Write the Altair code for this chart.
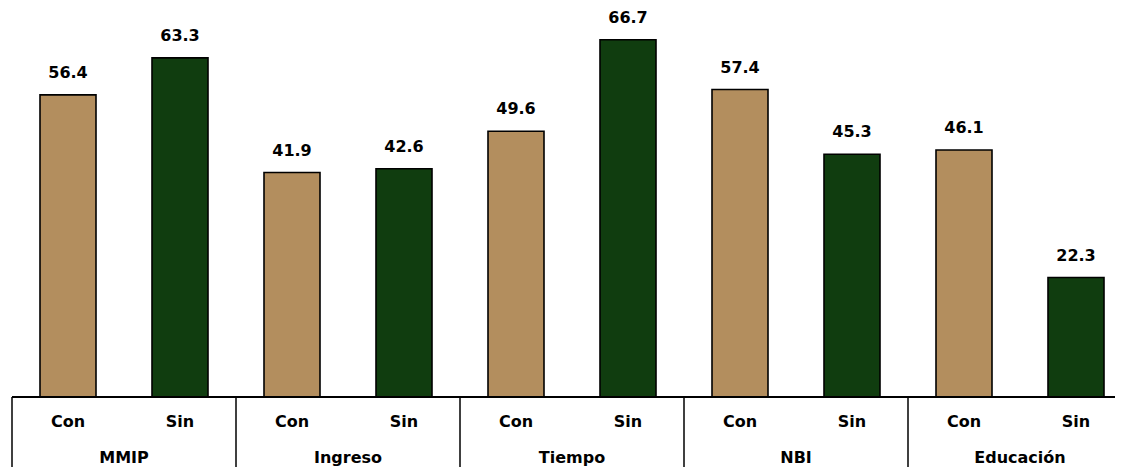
import altair as alt
import pandas as pd

groups = ["MMIP", "Ingreso", "Tiempo", "NBI", "Educación"]
subs = ["Con", "Sin"]
con_values = [56.4, 41.9, 49.6, 57.4, 46.1]
sin_values = [63.3, 42.6, 66.7, 45.3, 22.3]

rows = []
for gi, g in enumerate(groups):
    for s, vals in zip(subs, [con_values, sin_values]):
        rows.append({"key": f"{g}|{s}", "group": g, "sub": s, "value": vals[gi], "gi": gi})
df = pd.DataFrame(rows)
keys = list(df["key"])

grp_df = pd.DataFrame({"group": groups, "pos": [i + 0.5 for i in range(len(groups))]})
sep_df = pd.DataFrame({"pos": list(range(len(groups) + 1))})

FONT = "DejaVu Sans"
FS = 16
W, H = 1103, 375
FULL = 1120

xband = alt.X("key:N", sort=keys, axis=None,
              scale=alt.Scale(domain=keys, range=[0, FULL], paddingInner=0.5, paddingOuter=0.25))
yscale = alt.Scale(domain=[0, 70])

bars = alt.Chart(df).mark_bar(stroke="black", strokeWidth=1.6).encode(
    x=xband,
    y=alt.Y("value:Q", scale=yscale, axis=None),
    color=alt.Color("sub:N", scale=alt.Scale(domain=subs, range=["#B38E5E", "#103D0F"]), legend=None),
)

labels = alt.Chart(df).mark_text(font=FONT, fontWeight="bold", fontSize=FS, dy=-22,
                                 baseline="middle", color="black").encode(
    x=xband,
    y=alt.Y("value:Q", scale=yscale, axis=None),
    text=alt.Text("value:Q", format=".1f"),
)

sublabels = alt.Chart(df).mark_text(font=FONT, fontWeight="bold", fontSize=FS,
                                    baseline="middle", color="black").encode(
    x=xband,
    y=alt.value(H + 25),
    text="sub:N",
)

xq = alt.Scale(domain=[0, len(groups)], range=[0, FULL])

baseline = alt.Chart(sep_df).mark_rule(color="black", strokeWidth=1.5).encode(
    x=alt.value(0), x2=alt.value(W + 10), y=alt.value(H)
)

seps = alt.Chart(sep_df).mark_rule(color="black", strokeWidth=1.5).encode(
    x=alt.X("pos:Q", scale=xq, axis=None),
    y=alt.value(H),
    y2=alt.value(H + 90),
)

grplabels = alt.Chart(grp_df).mark_text(font=FONT, fontWeight="bold", fontSize=FS,
                                        baseline="middle", color="black").encode(
    x=alt.X("pos:Q", scale=xq, axis=None),
    y=alt.value(H + 61),
    text="group:N",
)

chart = alt.layer(bars, labels, sublabels, baseline, seps, grplabels).resolve_scale(
    x="independent"
).properties(
    width=W, height=H,
    background="white",
    autosize=alt.AutoSizeParams(type="none"),
    padding={"left": 4, "top": 14, "right": 0, "bottom": 70},
).configure_view(strokeWidth=0)

chart.save("out.html", embed_options={"renderer": "svg", "actions": False})
